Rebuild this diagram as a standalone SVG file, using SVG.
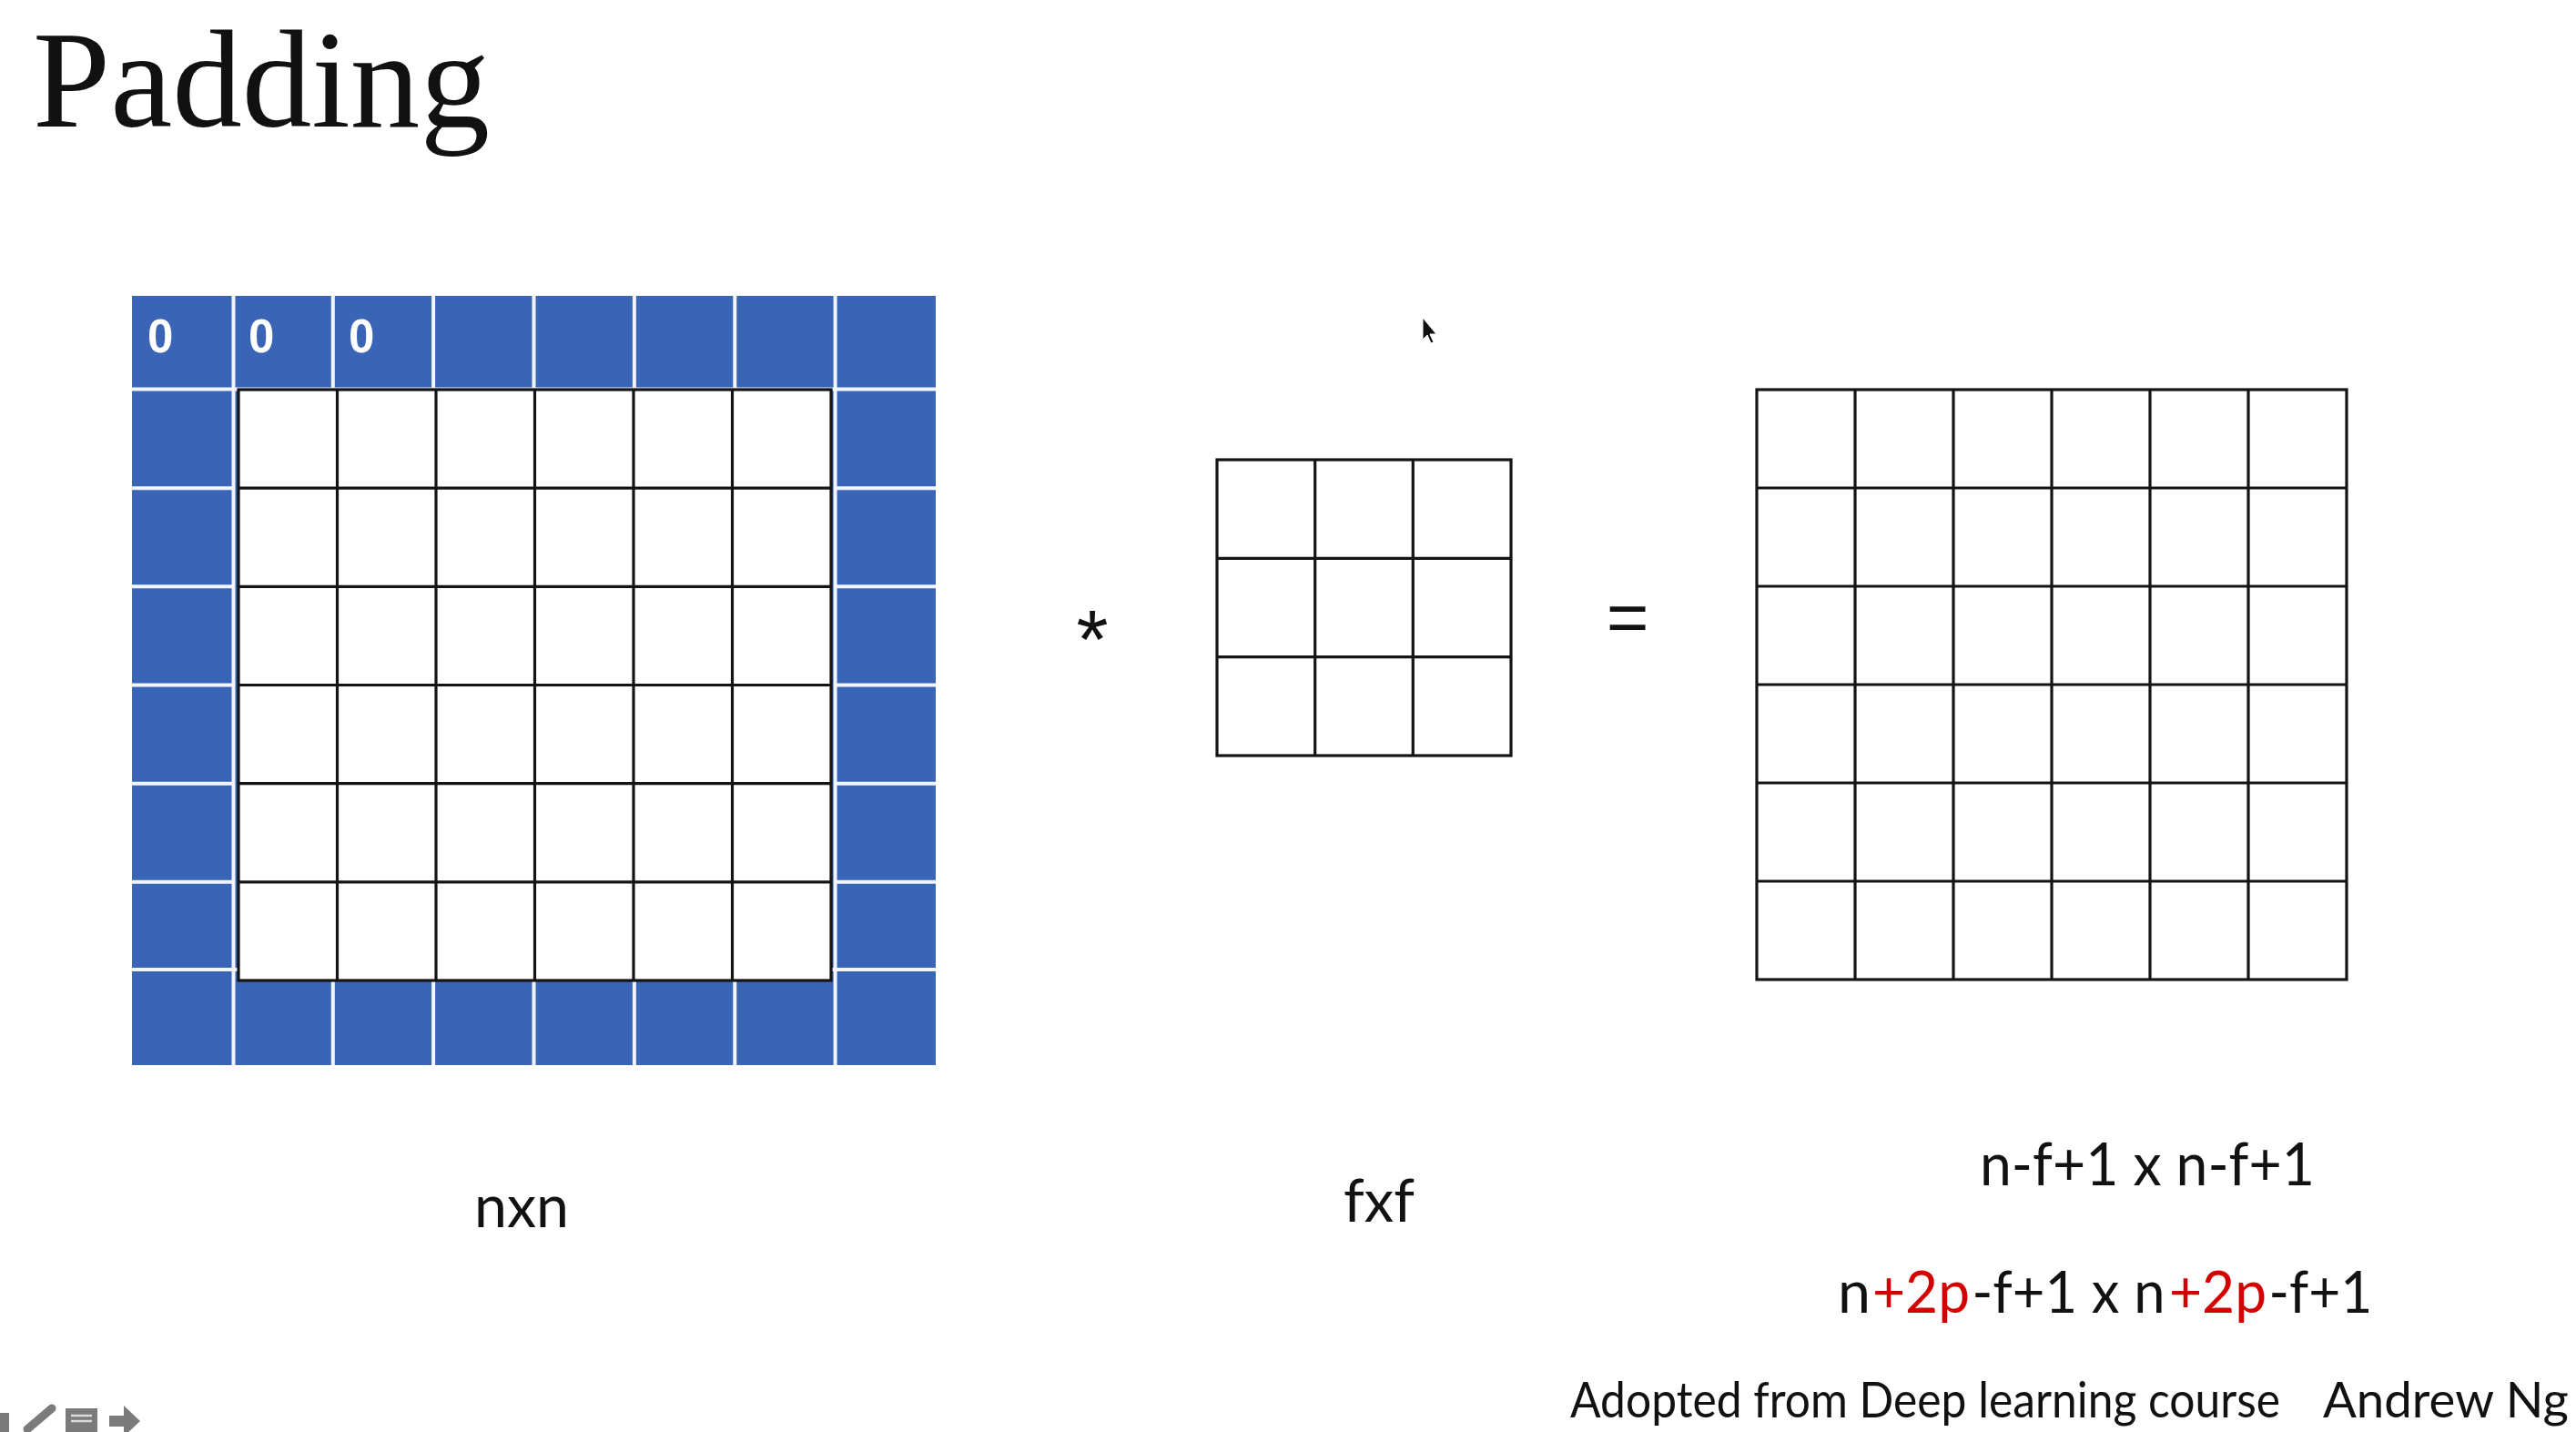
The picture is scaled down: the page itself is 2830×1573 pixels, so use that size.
<svg xmlns="http://www.w3.org/2000/svg" width="2830" height="1573" viewBox="0 0 2830 1573">
  <style>
    .cell { fill: #ffffff; stroke: #141414; stroke-width: 3.2; }
    .gl { stroke: #141414; stroke-width: 3.2; fill: none; }
    .sep { stroke: #f2f6fc; stroke-width: 4; fill: none; }
    .zero { font-family: "Liberation Sans", Arial, sans-serif; font-weight: bold; font-size: 51px; fill: #ffffff; }
    .lbl { font-family: Lato, "Open Sans", sans-serif; font-size: 66px; fill: #111111; }
    .fm { font-family: Lato, "Open Sans", sans-serif; font-size: 63px; fill: #111111; }
    .red { fill: #d40000; }
    .credit { font-family: Lato, "Open Sans", sans-serif; font-size: 54px; fill: #111111; }
    .icon { fill: #7b7b7b; }
  </style>
  <rect x="0" y="0" width="2830" height="1573" fill="#ffffff"/>

  <g id="title">
    <text x="36" y="139" font-family="'Liberation Serif', 'Times New Roman', serif" font-size="152" fill="#111111" textLength="502" lengthAdjust="spacingAndGlyphs">Padding</text>
  </g>

  <g id="padded-input">
    <rect x="145" y="325" width="883" height="845" fill="#3A64B6"/>
    <line class="sep" x1="256.5" y1="325" x2="256.5" y2="1170"/>
    <line class="sep" x1="917.6" y1="325" x2="917.6" y2="1170"/>
    <line class="sep" x1="145" y1="427.5" x2="1028" y2="427.5"/>
    <line class="sep" x1="145" y1="1065" x2="1028" y2="1065"/>
    <path class="sep" d="M365.8 325V427 M476.1 325V427 M586.5 325V427 M696.9 325V427 M807.3 325V427"/>
    <path class="sep" d="M365.8 1077V1170 M476.1 1077V1170 M586.5 1077V1170 M696.9 1077V1170 M807.3 1077V1170"/>
    <path class="sep" d="M145 536.2H256 M145 644.3H256 M145 752.5H256 M145 860.7H256 M145 968.8H256"/>
    <path class="sep" d="M918 536.2H1028 M918 644.3H1028 M918 752.5H1028 M918 860.7H1028 M918 968.8H1028"/>
    <rect class="cell" x="262" y="428" width="651" height="649"/>
    <path class="gl" d="M370.5 428V1077 M479 428V1077 M587.5 428V1077 M696 428V1077 M804.5 428V1077"/>
    <path class="gl" d="M262 536.2H913 M262 644.3H913 M262 752.5H913 M262 860.7H913 M262 968.8H913"/>
    <text class="zero" x="162" y="387">0</text>
    <text class="zero" x="273" y="387">0</text>
    <text class="zero" x="383" y="387">0</text>
  </g>

  <g id="operator-star">
    <text x="1200" y="734" text-anchor="middle" font-family="'Liberation Sans', Arial, sans-serif" font-size="90" fill="#111111">*</text>
  </g>

  <g id="filter">
    <rect class="cell" x="1337" y="505" width="323" height="325"/>
    <path class="gl" d="M1444.7 505V830 M1552.3 505V830 M1337 613.3H1660 M1337 721.7H1660"/>
  </g>

  <g id="operator-equals">
    <text x="1788" y="705" text-anchor="middle" font-family="'Liberation Sans', Arial, sans-serif" font-size="80" fill="#111111">=</text>
  </g>

  <g id="output">
    <rect class="cell" x="1930" y="428" width="648" height="648"/>
    <path class="gl" d="M2038 428V1076 M2146 428V1076 M2254 428V1076 M2362 428V1076 M2470 428V1076"/>
    <path class="gl" d="M1930 536H2578 M1930 644H2578 M1930 752H2578 M1930 860H2578 M1930 968H2578"/>
  </g>

  <g id="labels">
    <text class="lbl" x="521" y="1348" textLength="104" lengthAdjust="spacingAndGlyphs">nxn</text>
    <text class="lbl" x="1476" y="1342" textLength="78" lengthAdjust="spacingAndGlyphs">fxf</text>
    <text class="lbl" x="2175" y="1302" textLength="368" lengthAdjust="spacingAndGlyphs">n-f+1 x n-f+1</text>
    <g id="padded-formula">
      <text class="fm" x="2019" y="1442" textLength="36" lengthAdjust="spacingAndGlyphs">n</text>
      <text class="fm red" x="2057" y="1442" textLength="107" lengthAdjust="spacingAndGlyphs">+2p</text>
      <text class="fm" x="2166.5" y="1442" textLength="212" lengthAdjust="spacingAndGlyphs">-f+1 x n</text>
      <text class="fm red" x="2383" y="1442" textLength="107" lengthAdjust="spacingAndGlyphs">+2p</text>
      <text class="fm" x="2492.5" y="1442" textLength="114" lengthAdjust="spacingAndGlyphs">-f+1</text>
    </g>
    <text class="credit" x="1725" y="1557" textLength="780" lengthAdjust="spacingAndGlyphs">Adopted from Deep learning course</text>
    <text class="credit" x="2552" y="1557" font-size="57" textLength="270" lengthAdjust="spacingAndGlyphs">Andrew Ng</text>
  </g>

  <g id="cursor">
    <polygon points="1563,349 1563,373 1568,368 1572,377 1575,376 1571,367 1578,367" fill="#111111" stroke="#ffffff" stroke-width="1"/>
  </g>

  <g id="player-icons">
    <rect class="icon" x="0" y="1552" width="10" height="21"/>
    <line x1="30" y1="1570" x2="57" y2="1547" stroke="#7b7b7b" stroke-width="9" stroke-linecap="round"/>
    <rect class="icon" x="72" y="1547" width="35" height="26"/>
    <path d="M78 1555H101 M78 1561H101" stroke="#dcdcdc" stroke-width="2.5"/>
    <polygon class="icon" points="120,1555 136,1555 136,1544 154,1561 136,1578 136,1567 120,1567"/>
  </g>
</svg>
